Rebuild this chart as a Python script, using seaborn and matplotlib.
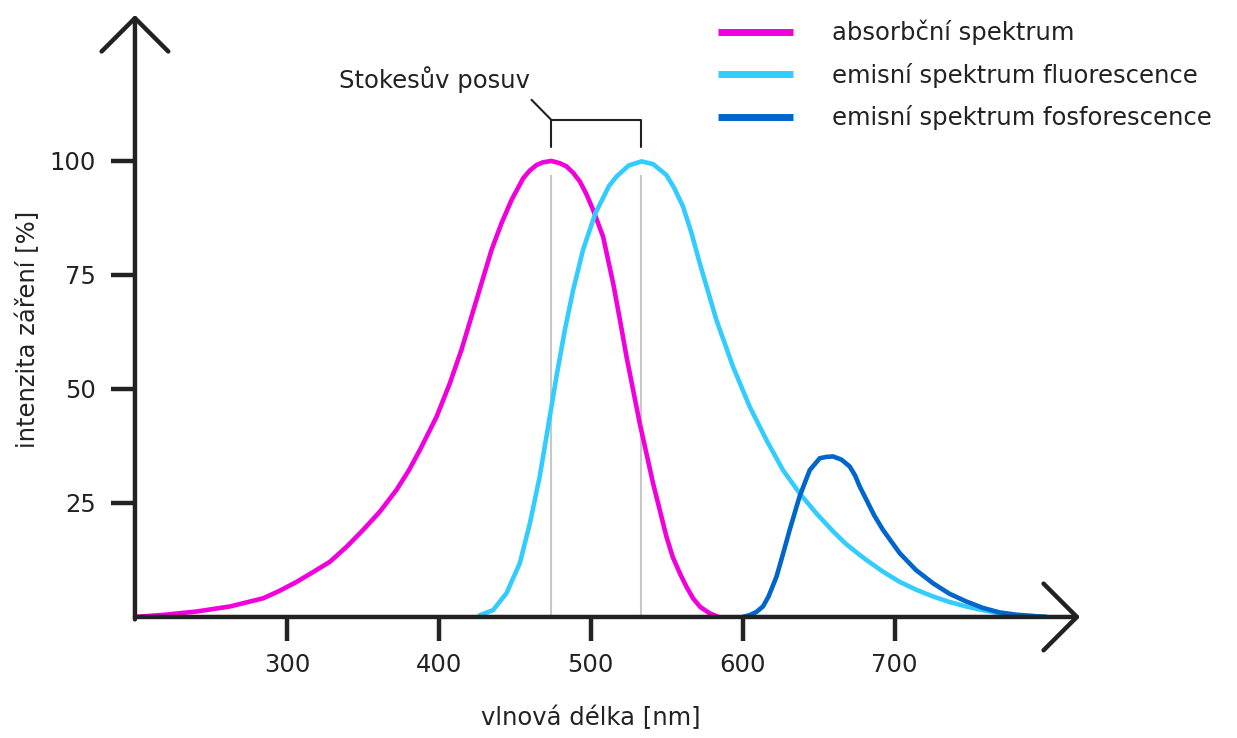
import matplotlib
matplotlib.use("Agg")
from matplotlib import pyplot as plt
from matplotlib.lines import Line2D
from matplotlib.patches import ArrowStyle
import pandas as pd
import seaborn as sns

# %%
# hodnoty (vlnova delka [nm], intenzita [%])
abs_wl = [200, 220, 240.6, 262.5, 284.4, 295, 306.4, 317, 328.3, 339, 350.2, 361.2, 372.2,
          380, 387.5, 398.5, 407.2, 414.9, 421.5, 428.1, 434.7, 441.2, 447.8, 455.5, 459.9,
          464.3, 468.6, 474.1, 479.6, 484, 488.4, 492.8, 497, 501.5, 508.1, 514.7, 519,
          523.5, 532.2, 541, 549.8, 554, 558.6, 563, 567.3, 572, 578.3, 584]
abs_int = [0, 0.5, 1.2, 2.3, 4.1, 5.7, 7.7, 9.8, 12.1, 15.3, 19.1, 23.1, 27.9,
           32, 36.6, 43.9, 51.2, 58.6, 65.9, 73.2, 80.5, 86.3, 91.4, 96.2, 97.9,
           99.1, 99.7, 100, 99.5, 98.8, 97.4, 95.5, 92.8, 89.3, 83.4, 73.2, 65.5,
           57.1, 42.5, 29.3, 17.6, 13.1, 9.6, 6.6, 4.1, 2.2, 0.8, 0]

flu_wl = [427, 435.7, 444.5, 453.3, 459.9, 466.4, 471.9, 477.4, 482.9, 488.4, 494.9, 503,
          512, 517, 525, 533.4, 541, 549.8, 555, 560.7, 566, 571.7, 582.7, 593.6, 604.6,
          615.6, 626.5, 637.5, 648.5, 659.4, 668, 677, 681.4, 692, 703.3, 714, 725.2, 736,
          747.1, 758, 769, 780, 791, 800]
flu_int = [0.4, 1.5, 5.2, 11.8, 20.5, 30.8, 41.7, 52.7, 62.9, 71.7, 80.5, 88.5,
           94.5, 96.6, 99, 99.9, 99.3, 96.9, 94, 90, 84.5, 77.6, 65.1, 54.9, 46.1,
           38.8, 32.2, 27.1, 22.7, 18.8, 16, 13.6, 12.5, 10, 7.7, 6, 4.5, 3.3,
           2.3, 1.5, 0.8, 0.4, 0.2, 0]

fos_wl = [600, 604.6, 609, 613.3, 617, 622.2, 626.5, 630.9, 637.5, 644.1, 650.7, 655,
          659.4, 665, 670.4, 674, 677, 681.4, 686.5, 692.3, 703.3, 714, 725.2, 736, 747.1,
          758, 769, 780, 791, 800]
fos_int = [0, 0.4, 1.1, 2.3, 4.5, 8.8, 13.8, 19.1, 26.5, 32.2, 34.8, 35.1,
           35.2, 34.5, 33, 31, 28.6, 25.7, 22.3, 19.1, 14, 10.3, 7.4, 5.1, 3.4,
           2, 1, 0.5, 0.2, 0]

labels = ['absorbční spektrum', 'emisní spektrum fluorescence', 'emisní spektrum fosforescence']
colors = ['#F200DC', '#33CCFF', '#0066CC']
x_ticks = [300, 400, 500, 600, 700]
y_ticks = [25, 50, 75, 100]
stokes_peaks = [474, 533]

df = pd.concat([
    pd.DataFrame({'wl': abs_wl, 'intensity': abs_int, 'spektrum': labels[0]}),
    pd.DataFrame({'wl': flu_wl, 'intensity': flu_int, 'spektrum': labels[1]}),
    pd.DataFrame({'wl': fos_wl, 'intensity': fos_int, 'spektrum': labels[2]}),
], ignore_index=True)

# %%
sns.set_style('white')
plt.rcParams['font.family'] = ['DejaVu Sans']
plt.rcParams['font.size'] = 17.5
ink = '#222222'

fig = plt.figure(figsize=(12.37, 7.38), dpi=100)
ax = fig.add_axes([0.1091, 0.164, 0.764, 0.8157])

ax.vlines(stokes_peaks, 0, 97, color='#c8c8c8', lw=1.5, zorder=1)
sns.lineplot(data=df, x='wl', y='intensity', hue='spektrum', hue_order=labels,
             palette=colors, estimator=None, sort=False, lw=3.3, legend=False,
             ax=ax, zorder=3)
for line in ax.get_lines():
    line.set_solid_joinstyle('round')

ax.set_xlim(200, 822)
ax.set_ylim(0, 132)
ax.set_xticks(x_ticks)
ax.set_yticks(y_ticks)
for sp in ax.spines.values():
    sp.set_visible(False)
ax.tick_params(bottom=True, left=True, direction='out', length=17, width=3.2,
               color=ink, labelcolor=ink, labelsize=17.5)
ax.tick_params(axis='x', pad=9)
ax.tick_params(axis='y', pad=11)

# osy se sipkami
arrow = dict(arrowstyle=ArrowStyle('->', head_length=1.0, head_width=1.0),
             mutation_scale=24, lw=3.2, color=ink, shrinkA=0, shrinkB=0)
ax.annotate('', xy=(1, 0), xytext=(0, 0), xycoords='axes fraction',
            arrowprops=arrow, annotation_clip=False)
ax.annotate('', xy=(0, 1), xytext=(0, -0.004), xycoords='axes fraction',
            arrowprops=arrow, annotation_clip=False)

ax.set_xlabel('vlnová délka [nm]', fontsize=17.5, color=ink)
ax.set_ylabel('intenzita záření [%]', fontsize=17.5, color=ink)
ax.xaxis.set_label_coords(0.4825, -0.148)
ax.yaxis.set_label_coords(-0.1005, 0.478)

# Stokesuv posuv
p0, p1 = stokes_peaks
ax.plot([p0, p0, p1, p1], [103, 109, 109, 103], color=ink, lw=1.5, clip_on=False)
ax.plot([461, p0], [113.4, 109], color=ink, lw=1.5, clip_on=False)
ax.text(397, 116, 'Stokesův posuv', ha='center', va='baseline', color=ink, fontsize=17.5)

handles = [Line2D([], [], color=c, lw=5, solid_capstyle='butt') for c in colors]
ax.legend(handles, labels, loc='upper left', bbox_to_anchor=(0.5804, 0.973),
          bbox_transform=fig.transFigure, frameon=False, borderpad=0, borderaxespad=0,
          handlelength=3.1, handletextpad=1.6, labelspacing=0.72, fontsize=17.5,
          labelcolor=ink)

fig.savefig('out.png', dpi=100)
